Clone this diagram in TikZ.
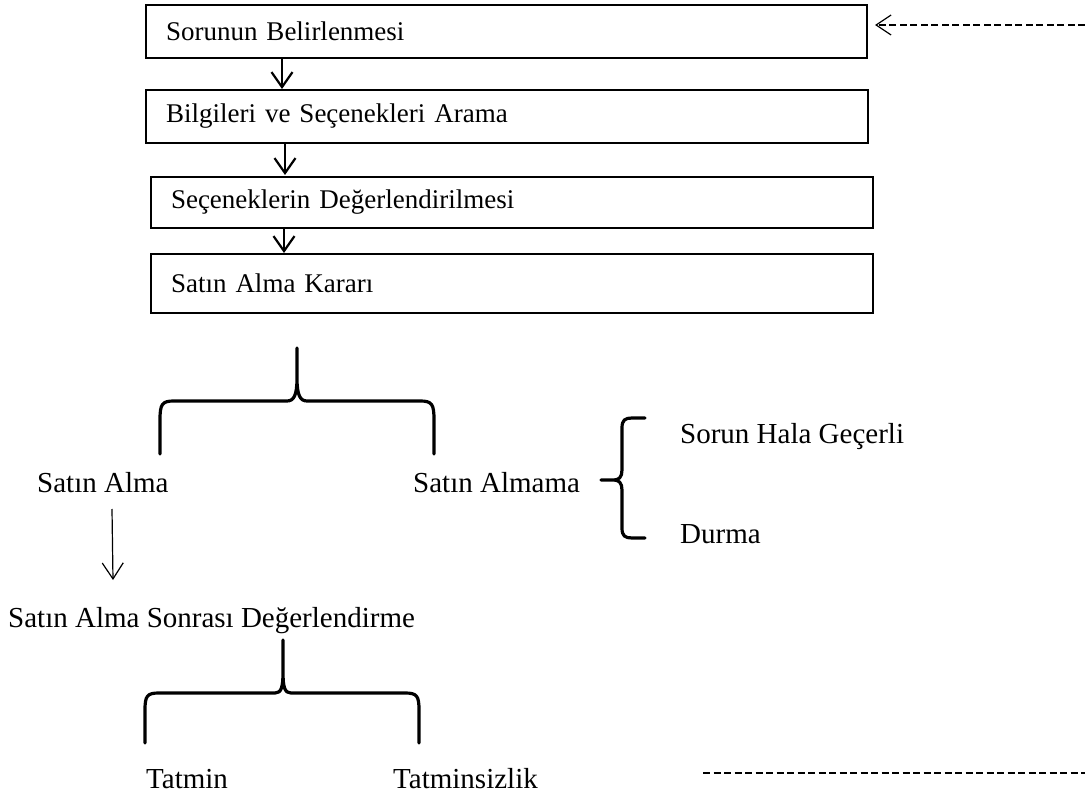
\documentclass[tikz,border=0pt]{standalone}
\usepackage{fontspec}
\setmainfont{Liberation Serif}
\usetikzlibrary{arrows.meta}
\tikzset{
  x=1pt, y=-1pt,
  stepbox/.style={draw, line width=2pt, anchor=north west, inner xsep=20pt,
    inner ysep=0pt, align=left, font=\fontsize{27}{30}\selectfont},
  lbl/.style={anchor=base west, inner sep=0pt, font=\fontsize{29}{32}\selectfont},
  flow/.style={line width=2.2pt, -{Straight Barb[length=15pt,width=21pt,line width=2.2pt]}},
  thinflow/.style={line width=1.2pt, -{Straight Barb[length=16pt,width=21pt,line width=1.2pt]}},
  bracestroke/.style={line width=3.2pt, line cap=round, line join=round},
  back/.style={line width=2pt, dash pattern=on 7pt off 3.5pt},
}
\newcommand{\stepnode}[6]{% name, x0, y0, x1, y1, text
  \node[stepbox, minimum width={#4-#2}, minimum height={#5-#3}, text width={#4-#2-40}]
    (#1) at (#2,#3) {#6};}
\begin{document}
\begin{tikzpicture}
\useasboundingbox (0,0) rectangle (1085,794);

% decision steps
\stepnode{b1}{145}{4}{866}{57}{Sorunun Belirlenmesi}
\stepnode{b2}{145}{89}{867}{142}{Bilgileri ve Seçenekleri Arama}
\stepnode{b3}{150}{176}{872}{227}{Seçeneklerin Değerlendirilmesi}
\stepnode{b4}{150}{253}{872}{312}{Satın Alma Kararı}

\coordinate (c1) at (282,0);
\coordinate (c2) at (285,0);
\coordinate (c3) at (284,0);
\draw[flow] (b1.south -| c1) -- (b2.north -| c1);
\draw[flow] (b2.south -| c2) -- ([yshift=1pt]b3.north -| c2);
\draw[flow] (b3.south -| c3) -- (b4.north -| c3);

% outcomes of the decision
\node[lbl] (buy) at (37,492) {Satın Alma};
\node[lbl] (nobuy) at (413,492) {Satın Almama};
\node[lbl] (still) at (680,443) {Sorun Hala Geçerli};
\node[lbl] (stop) at (680,543) {Durma};
\node[lbl] (post) at (8,627) {Satın Alma Sonrası Değerlendirme};
\node[lbl] (sat) at (146,788) {Tatmin};
\node[lbl] (unsat) at (393,788) {Tatminsizlik};

% brace under the decision
\draw[bracestroke] (160,454) -- (160,420) .. controls (160,404) and (162,401) .. (174,401)
  -- (287,401) .. controls (294,401) and (297,395) .. (297,378) -- (297,348)
  (297,378) .. controls (297,395) and (300,401) .. (307,401)
  -- (420,401) .. controls (432,401) and (434,404) .. (434,420) -- (434,454);

% brace after "Satın Almama"
\draw[bracestroke] (601,480) -- (614,480) .. controls (619,480) and (622,477) .. (622,470)
  -- (622,428) .. controls (622,420) and (625,418) .. (632,418) -- (645,418)
  (614,480) .. controls (619,480) and (622,483) .. (622,490)
  -- (622,528) .. controls (622,536) and (625,538) .. (632,538) -- (645,538);

% brace under the post-purchase evaluation
\draw[bracestroke] (145,743) -- (145,710) .. controls (145,696) and (147,693) .. (159,693)
  -- (275,693) .. controls (281,693) and (283,688) .. (283,672) -- (283,640)
  (283,672) .. controls (283,688) and (285,693) .. (291,693)
  -- (405,693) .. controls (417,693) and (419,696) .. (419,710) -- (419,743);

\draw[thinflow] (112,509) -- (113,580);

% feedback line
\coordinate (fbin) at (1085,25);
\coordinate (fbout) at (703,773);
\coordinate (fbend) at (1085,773);
\draw[back] (fbout) -- (fbend);
\draw[back, -{Straight Barb[length=15pt,width=20pt,line width=1.2pt]}] (fbin) -- ([xshift=7pt]b1.east |- fbin);
\end{tikzpicture}
\end{document}
